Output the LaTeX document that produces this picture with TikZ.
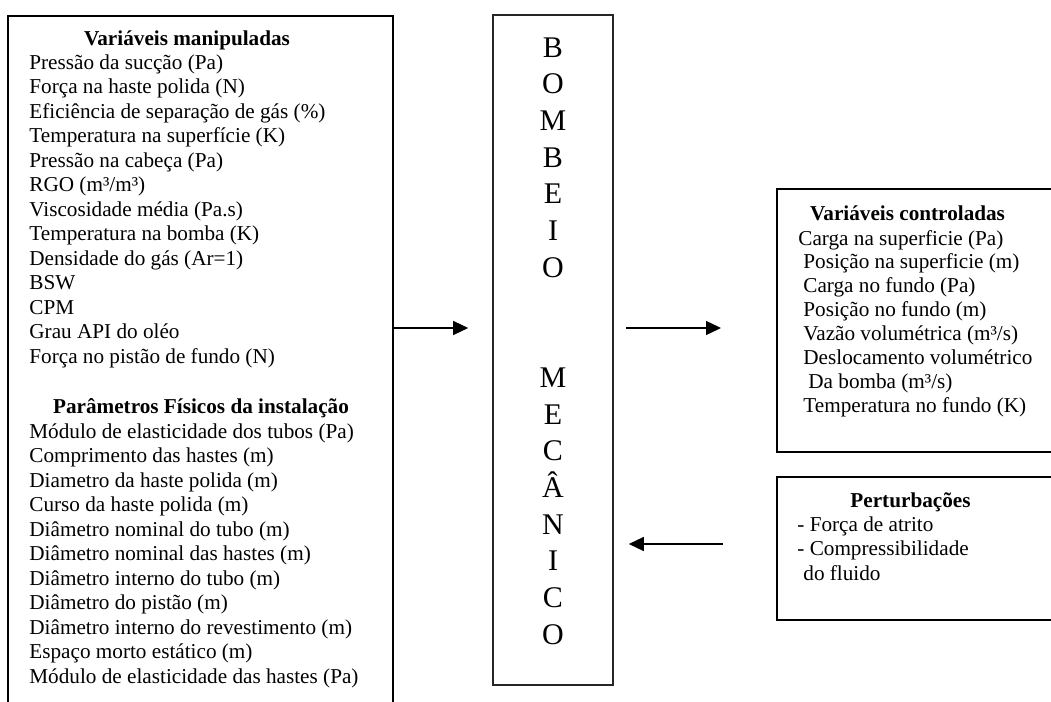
\documentclass[tikz,border=0pt]{standalone}
\usepackage{fontspec}
\setmainfont{Liberation Serif}
\usetikzlibrary{arrows.meta}
\begin{document}
\begin{tikzpicture}[x=0.5pt,y=-0.5pt,
  box/.style={draw, line width=1pt, rectangle, inner sep=0pt},
  midbox/.style={draw=black!85, line width=0.8pt, rectangle, inner sep=0pt},
  txt/.style={anchor=base west, inner sep=0pt, font=\fontsize{10.6}{12.2}\selectfont},
  ttl/.style={anchor=base, inner sep=0pt, font=\fontsize{10.6}{12.2}\selectfont\bfseries},
  letter/.style={anchor=base, inner sep=0pt, font=\fontsize{15}{18}\selectfont},
  arr/.style={-{Triangle[length=7.5pt,width=7pt]}, line width=0.7pt}]
\useasboundingbox (0,0) rectangle (1051,702);
\clip (0,0) rectangle (1051,702);

% boxes
\node[box, minimum width=192.5pt, minimum height=352pt] (lbox) at (200.5,368) {};
\node[midbox, minimum width=60pt, minimum height=335pt] (mid) at (553,350) {};
\node[box, minimum width=141.5pt, minimum height=131.5pt] (ctrl) at (918.5,320.5) {};
\node[box, minimum width=141.5pt, minimum height=71.5pt] (pert) at (918.5,548.5) {};

% left box: manipulated variables
\node[ttl] (manttl) at (187,45) {Variáveis manipuladas};
\foreach \t [count=\i] in {Pressão da sucção (Pa), Força na haste polida (N),
  Eficiência de separação de gás (\%), Temperatura na superfície (K),
  Pressão na cabeça (Pa), RGO (m³/m³), Viscosidade média (Pa.s),
  Temperatura na bomba (K), Densidade do gás (Ar=1), BSW, CPM,
  Grau API do oléo, Força no pistão de fundo (N)}
  \node[txt] (man\i) at (29,{69+24.5*(\i-1)}) {\t};

% left box: physical parameters
\node[ttl] (parttl) at (201,413) {Parâmetros Físicos da instalação};
\foreach \t [count=\i] in {Módulo de elasticidade dos tubos (Pa),
  Comprimento das hastes (m), Diametro da haste polida (m),
  Curso da haste polida (m), Diâmetro nominal do tubo (m),
  Diâmetro nominal das hastes (m), Diâmetro interno do tubo (m),
  Diâmetro do pistão (m), Diâmetro interno do revestimento (m),
  Espaço morto estático (m), Módulo de elasticidade das hastes (Pa)}
  \node[txt] (par\i) at (29,{438+24.5*(\i-1)}) {\t};

% vertical title
\foreach \c [count=\i] in {B,O,M,B,E,I,O}
  \node[letter] (wa\i) at (553,{57+36.7*(\i-1)}) {\c};
\foreach \c [count=\i] in {M,E,C,Â,N,I,C,O}
  \node[letter] (wb\i) at (553,{57+36.7*(\i+8)}) {\c};

% controlled variables
\node[ttl] (ctlttl) at (907.5,220) {Variáveis controladas};
\node[txt] (c1) at (798,245) {Carga na superficie (Pa)};
\node[txt] (c2) at (803,268.9) {Posição na superficie (m)};
\node[txt] (c3) at (803,292.8) {Carga no fundo (Pa)};
\node[txt] (c4) at (803,316.7) {Posição no fundo (m)};
\node[txt] (c5) at (803,340.6) {Vazão volumétrica (m³/s)};
\node[txt] (c6) at (803,364.5) {Deslocamento volumétrico};
\node[txt] (c7) at (808,388.4) {Da bomba (m³/s)};
\node[txt] (c8) at (803,412.3) {Temperatura no fundo (K)};

% disturbances
\node[ttl] (perttl) at (910.5,507) {Perturbações};
\node[txt] (p1) at (797,531) {- Força de atrito};
\node[txt] (p2) at (797,555) {- Compressibilidade};
\node[txt] (p3) at (803,580) {do fluido};

% connectors
\coordinate (yin) at (0,328);
\coordinate (ydist) at (0,544);
\draw[arr, shorten >=12pt] (lbox.east |- yin) -- (mid.west |- yin);
\draw[arr, shorten <=6pt, shorten >=27.5pt] (mid.east |- yin) -- (ctrl.west |- yin);
\draw[arr, shorten <=26.5pt, shorten >=7.5pt] (pert.west |- ydist) -- (mid.east |- ydist);
\end{tikzpicture}
\end{document}
